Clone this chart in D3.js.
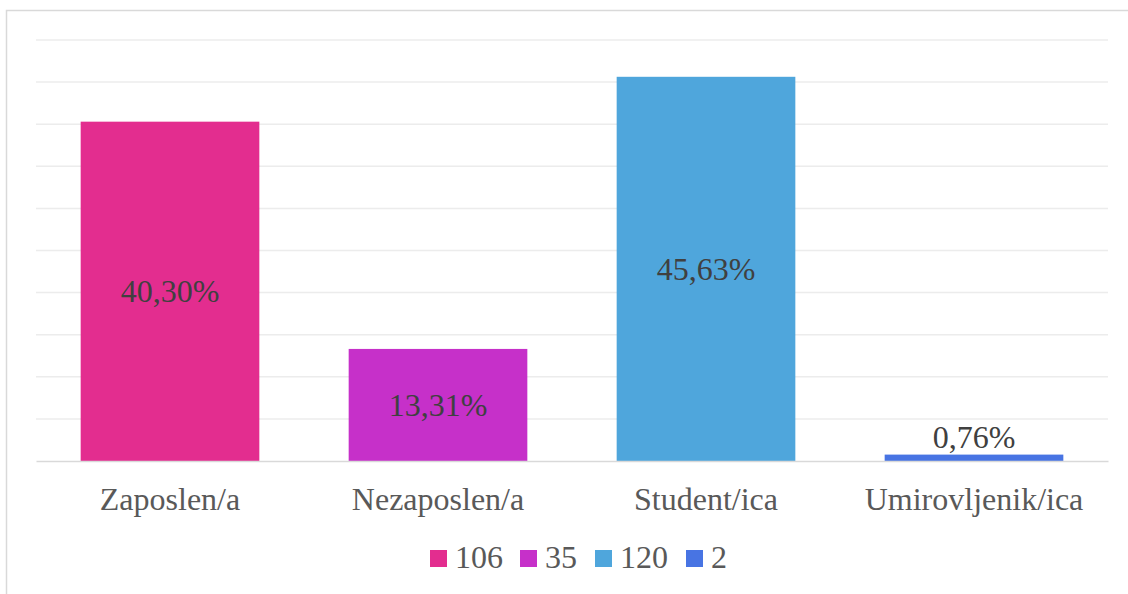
<!DOCTYPE html>
<html>
<head>
<meta charset="utf-8">
<script src="https://cdn.jsdelivr.net/npm/d3@7"></script>
<style>
  body { margin: 0; background: #fff; }
  text { font-family: "Liberation Serif", serif; }
</style>
</head>
<body>
<svg id="chart" width="1128" height="594"></svg>
<script>
// ========= Data =========
const categories = ['Zaposlen/a', 'Nezaposlen/a', 'Student/ica', 'Umirovljenik/ica'];
const counts = [106, 35, 120, 2];
const percents = [40.30, 13.31, 45.63, 0.76];
const colors = ['#e32d8f', '#c630c9', '#4fa6dc', '#4874e3'];
const yTicks = d3.range(0, 55, 5);

const rows = categories.map((c, i) => ({cat: c, count: counts[i], pct: percents[i], color: colors[i]}));

// ========= Layout =========
const svg = d3.select('#chart');
const plot = {left: 36, right: 1108, top: 40, bottom: 461};

// chart frame
svg.append('rect')
  .attr('x', 6.5).attr('y', 10.5)
  .attr('width', 1130).attr('height', 600)
  .attr('fill', 'none')
  .attr('stroke', '#d9d9d9')
  .attr('stroke-width', 1.5);

const x = d3.scaleBand()
  .domain(categories)
  .range([plot.left, plot.right])
  .paddingInner(1 / 3)
  .paddingOuter(1 / 6);

const y = d3.scaleLinear()
  .domain([0, 50])
  .range([plot.bottom, plot.top]);

// ========= Grid =========
svg.append('g')
  .selectAll('line')
  .data(yTicks.filter(t => t > 0))
  .enter()
  .append('line')
  .attr('x1', plot.left).attr('x2', plot.right)
  .attr('y1', d => y(d)).attr('y2', d => y(d))
  .attr('stroke', '#ececec')
  .attr('stroke-width', 1.5);

// ========= Bars =========
svg.append('g')
  .selectAll('rect')
  .data(rows)
  .enter()
  .append('rect')
  .attr('x', d => x(d.cat))
  .attr('width', x.bandwidth())
  .attr('y', d => y(d.pct))
  .attr('height', d => y(0) - y(d.pct))
  .attr('fill', d => d.color);

// axis line + category labels
const xAxis = d3.axisBottom(x).tickSize(0).tickPadding(0);
const gx = svg.append('g')
  .attr('transform', `translate(0,${plot.bottom})`)
  .call(xAxis)
  .attr('font-family', null);
gx.select('.domain')
  .attr('stroke', '#d9d9d9')
  .attr('stroke-width', 1.5);
gx.selectAll('.tick text')
  .attr('font-size', 32)
  .attr('fill', '#595959')
  .attr('dy', 0)
  .attr('y', 49);

// ========= Data labels =========
const fmt = v => v.toFixed(2).replace('.', ',') + '%';
svg.append('g')
  .selectAll('text')
  .data(rows)
  .enter()
  .append('text')
  .attr('x', d => x(d.cat) + x.bandwidth() / 2)
  .attr('y', d => {
    const h = y(0) - y(d.pct);
    return h > 40 ? (y(d.pct) + y(0)) / 2 + 11 : y(d.pct) - 7;
  })
  .attr('text-anchor', 'middle')
  .attr('font-size', 32)
  .attr('fill', '#404040')
  .text(d => fmt(d.pct));

// ========= Legend =========
const legendX = [430, 520, 595, 686];
const legend = svg.append('g')
  .selectAll('g')
  .data(rows)
  .enter()
  .append('g')
  .attr('transform', (d, i) => `translate(${legendX[i]},550)`);

legend.append('rect')
  .attr('width', 17).attr('height', 17)
  .attr('fill', d => d.color);

legend.append('text')
  .attr('x', 25).attr('y', 18)
  .attr('font-size', 32)
  .attr('fill', '#595959')
  .text(d => d.count);
</script>
</body>
</html>
